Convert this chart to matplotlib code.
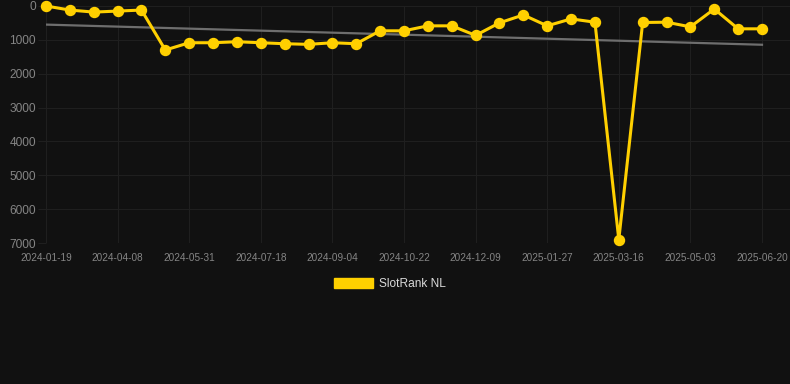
import matplotlib
matplotlib.use("Agg")
import matplotlib.pyplot as plt
from matplotlib.patches import Patch
import numpy as np

plt.rcParams['font.family'] = ['Liberation Sans', 'DejaVu Sans']

series_name = "SlotRank NL"
ranks = [0, 120, 180, 150, 120, 1300, 1085, 1085, 1055, 1085,
         1114, 1133, 1085, 1114, 733, 733, 586, 586, 868, 498,
         264, 586, 381, 478, 6900, 487, 478, 616, 88, 674, 674]
tick_labels = ["2024-01-19", "2024-04-08", "2024-05-31", "2024-07-18", "2024-09-04",
               "2024-10-22", "2024-12-09", "2025-01-27", "2025-03-16", "2025-05-03",
               "2025-06-20"]
y_ticks = [0, 1000, 2000, 3000, 4000, 5000, 6000, 7000]

BG = "#111111"
GRID = "#1f1f1f"
TEXT = "#858585"
GOLD = "#FFD000"
TREND = "#6e6e6e"

W, H = 790, 384
fig = plt.figure(figsize=(W / 100, H / 100), dpi=100, facecolor=BG)
ax = fig.add_axes([46 / W, 1 - 243 / H, (W - 46) / W, (243 - 6) / H])
ax.set_facecolor(BG)

x = np.arange(len(ranks))
y = np.array(ranks, dtype=float)

# trend line (least squares)
coef = np.polyfit(x, y, 1)
ax.plot([x[0], x[-1]], np.polyval(coef, [x[0], x[-1]]), color=TREND, lw=1.6, zorder=2)

ax.plot(x, y, color=GOLD, lw=2.2, marker='o', markersize=7.2,
        markerfacecolor=GOLD, markeredgecolor=GOLD, zorder=3, clip_on=False)

ax.set_xlim(0, (W - 46) / ((762 - 46) / 30))
ax.set_ylim(7000, 0)

xt = x[::3]
ax.set_xticks(xt)
ax.set_xticklabels(tick_labels)
ax.set_yticks(y_ticks)
ax.set_yticklabels([str(v) for v in y_ticks])

ax.tick_params(axis='x', length=0, pad=7.5, labelsize=7.2, colors=TEXT)
ax.tick_params(axis='y', length=5.8, width=0.72, pad=1.5, labelsize=8.6,
               colors=GRID, labelcolor=TEXT)

ax.grid(True, color=GRID, lw=0.72)
ax.set_axisbelow(True)
for s in ax.spines.values():
    s.set_visible(False)

leg = fig.legend(handles=[Patch(facecolor=GOLD, edgecolor=GOLD, label=series_name)],
                 loc='center', bbox_to_anchor=(390 / W, 1 - 284 / H),
                 frameon=False, fontsize=8.6, labelcolor="#d9d9d9",
                 handlelength=3.33, handleheight=1.0, handletextpad=0.5)

fig.savefig("out.png", dpi=100, facecolor=BG)
